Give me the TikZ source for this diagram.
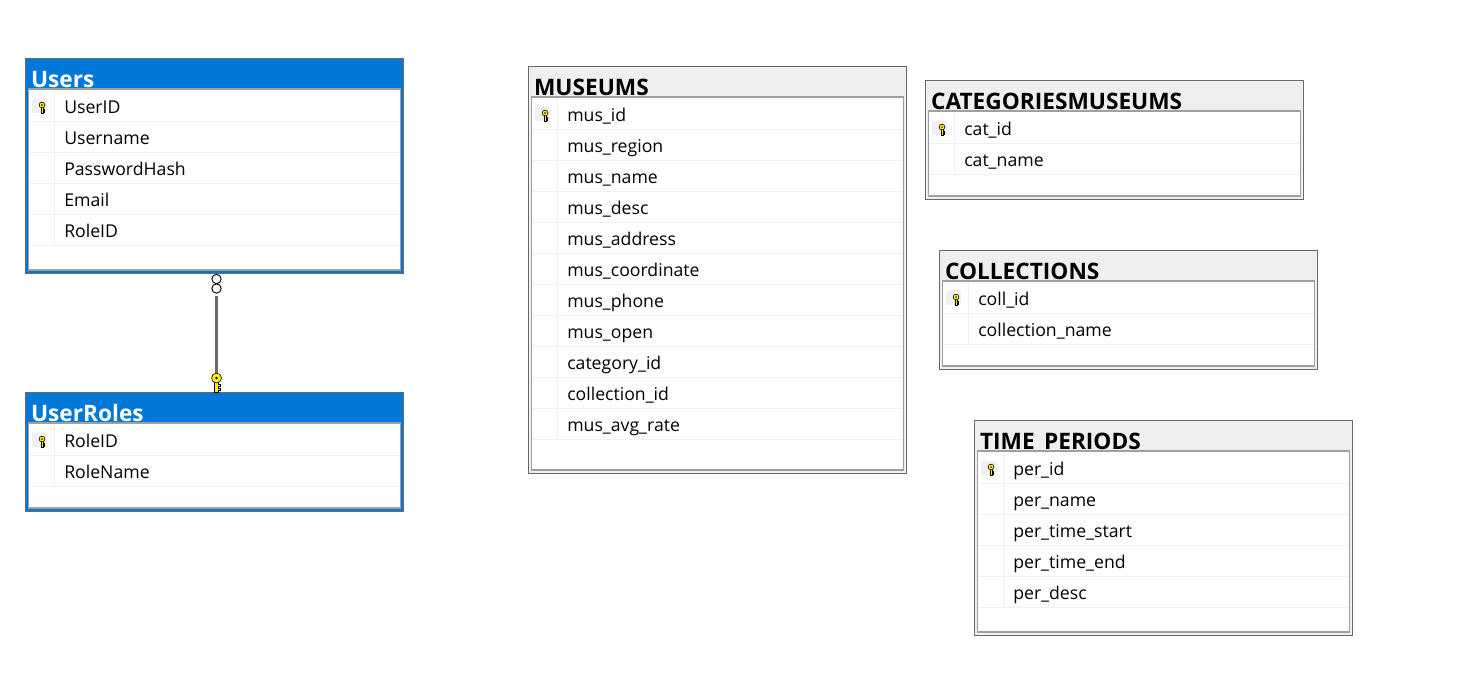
\documentclass[tikz,border=0pt]{standalone}
\usepackage{fontspec}
\setmainfont{Open Sans}
\definecolor{framegray}{HTML}{696969}
\definecolor{bezelgray}{HTML}{A0A0A0}
\definecolor{headgray}{HTML}{EFEFEF}
\definecolor{headblue}{HTML}{0078D7}
\definecolor{rowline}{HTML}{F0F0F0}
\tikzset{
  x=.75pt, y=-.75pt,
  tablebox/.style={draw=framegray, line width=.95pt, fill=#1, anchor=north west,
    inner sep=0pt, outer sep=0pt, minimum width=283.5pt},
  innerbox/.style={draw=bezelgray, line width=.8pt, fill=white, anchor=north west,
    inner sep=0pt, outer sep=0pt, minimum width=279pt},
  titletext/.style={anchor=base west, inner sep=0pt, font=\fontsize{17}{18}\selectfont\bfseries},
  fieldtext/.style={anchor=base west, inner sep=0pt, text=black, font=\fontsize{13.25}{16}\selectfont},
  keypatch/.style={fill=rowline, draw=none, anchor=north west, inner sep=0pt, outer sep=0pt,
    minimum width=11.25pt, minimum height=10.5pt},
  crowring/.style={circle, draw=black, fill=white, line width=.7pt, inner sep=0pt,
    minimum size=7pt},
  relline/.style={line width=2.8pt, draw=framegray,
    preaction={draw=bezelgray, line width=4.4pt},
    preaction={draw=white, line width=3.5pt}},
  pics/keyglyph/.style={code={
    \draw[fill=yellow, draw=black, line width=.45pt]
      (-1.3,2) -- (-1.3,10) -- (1.2,10) -- (1.2,8.6) -- (2.5,8.6) -- (2.5,7.2) -- (1.2,7.2)
      -- (1.2,6) -- (2.5,6) -- (2.5,4.6) -- (1.2,4.6) -- (1.2,2) -- cycle;
    \draw[fill=yellow, draw=black, line width=.45pt] (0,0) circle (3.4);
    \fill[black] (0,0) circle (.9);
  }}
}
% #1 fill, #2 title colour, #3 name, #4 x, #5 y, #6 height, #7 title, #8 fields
\newcommand{\dbtable}[8]{
  \node[tablebox=#1, minimum height=#6*.75pt] (#3) at (#4,#5) {};
  \node[titletext, text=#2] (#3-title) at (#4+5.3,#5+28.5) {#7};
  \node[innerbox, minimum height=#6*.75pt-25.5pt] (#3-inner) at (#4+3,#5+30.5) {};
  \foreach \fname [count=\i from 0] in {#8} {
    \node[fieldtext] (#3-\i) at (#4+38.5,#5+54.6+31*\i) {\fname};
    \draw[rowline, line width=.75pt] (#4+3.5,#5+63+31*\i) -- (#4+374.5,#5+63+31*\i);
  }
  \draw[rowline, line width=.75pt] (#4+28.5,#5+31.5) -- (#4+28.5,#5+62.5+31*\fieldcount);
  \node[keypatch] (#3-patch) at (#4+6.5,#5+40.5) {};
  \pic at (#4+16.5,#5+46.5) [scale=.85] {keyglyph};
}
\begin{document}
\begin{tikzpicture}
  \useasboundingbox[fill=white] (0,0) rectangle (1479,683);

  \def\fieldcount{4}
  \dbtable{headblue}{white}{users}{25.5}{58.5}{215}{Users}
    {UserID,Username,PasswordHash,Email,RoleID}
  \def\fieldcount{1}
  \dbtable{headblue}{white}{userroles}{25.5}{392.5}{119}{UserRoles}
    {RoleID,RoleName}
  \def\fieldcount{10}
  \dbtable{headgray}{black}{museums}{528.5}{66.5}{407}{MUSEUMS}
    {mus\_id,mus\_region,mus\_name,mus\_desc,mus\_address,mus\_coordinate,mus\_phone,mus\_open,category\_id,collection\_id,mus\_avg\_rate}
  \def\fieldcount{1}
  \dbtable{headgray}{black}{categories}{925.5}{80.5}{119}{CATEGORIESMUSEUMS}
    {cat\_id,cat\_name}
  \dbtable{headgray}{black}{collections}{939.5}{250.5}{119}{COLLECTIONS}
    {coll\_id,collection\_name}
  \def\fieldcount{4}
  \dbtable{headgray}{black}{periods}{974.5}{420.5}{215}{TIME\raisebox{-3pt}{\_}PERIODS}
    {per\_id,per\_name,per\_time\_start,per\_time\_end,per\_desc}

  % relation users - userroles
  \node[crowring] (ringa) at (216.5,279) {};
  \node[crowring] (ringb) at (216.5,288.5) {};
  \coordinate (relkey) at (216.5,372.5);
  \draw[relline, shorten <=1.9pt] (ringb.south) -- (relkey);
  \pic at (216.5,378) [scale=1.45] {keyglyph};
\end{tikzpicture}
\end{document}
